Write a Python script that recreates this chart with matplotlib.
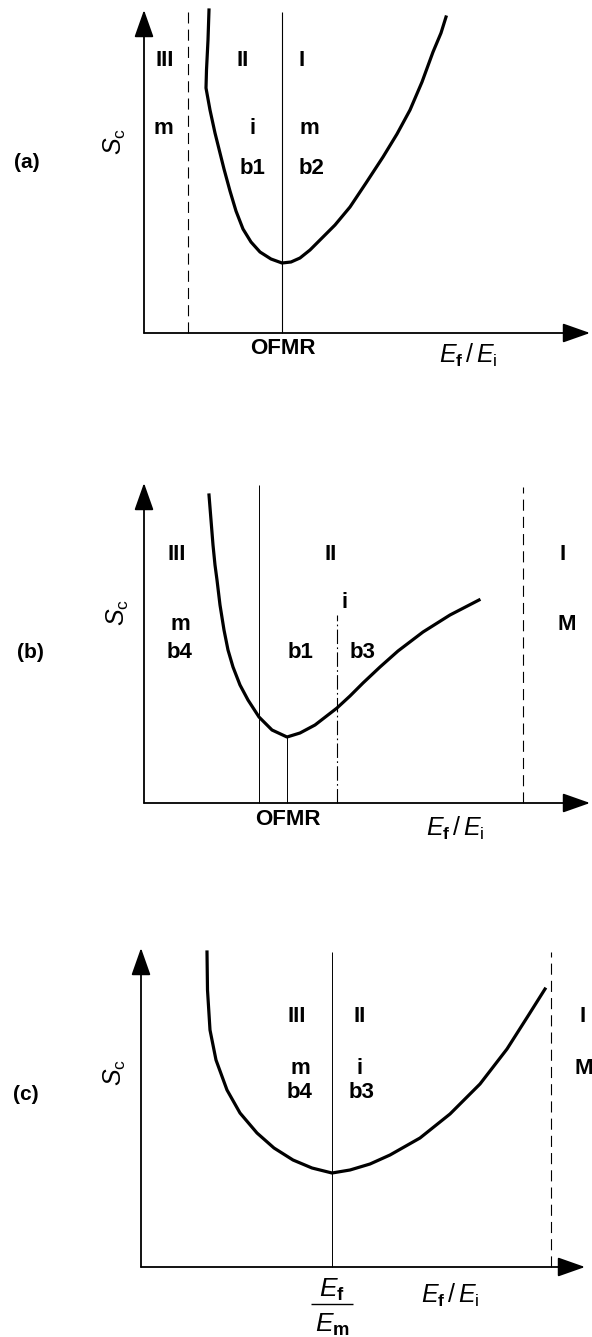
import matplotlib
matplotlib.use("Agg")
import matplotlib.pyplot as plt

plt.rcParams['font.family'] = ['Liberation Sans', 'DejaVu Sans']
plt.rcParams['mathtext.fontset'] = 'custom'
plt.rcParams['mathtext.rm'] = 'Liberation Sans'
plt.rcParams['mathtext.it'] = 'Liberation Sans:italic'
plt.rcParams['mathtext.bf'] = 'Liberation Sans:bold'

# curves (x = E_f/E_i, y = S_c, arbitrary units)
curve_a_x = [65, 64, 62.5, 62, 66, 71, 75, 80, 86, 92, 99, 107, 116, 127, 138,
             147, 156, 166, 176, 191, 206, 222, 239, 253, 266, 278, 289, 297, 302]
curve_a_y = [323, 293, 263, 245, 223, 200, 184, 164, 142, 122, 104, 91, 81, 74, 70,
             71, 75, 83, 93, 108, 126, 150, 176, 199, 223, 251, 281, 300, 316]

curve_b_x = [65, 67, 69, 71, 73, 76, 80, 84, 89, 96, 104, 115, 128, 143,
             156, 171, 193, 206, 219, 236, 254, 279, 306, 335]
curve_b_y = [308, 283, 258, 238, 223, 198, 173, 153, 136, 118, 103, 86, 73, 66,
             70, 78, 95, 107, 120, 136, 152, 171, 188, 203]

curve_c_x = [66, 66.5, 69, 75, 86, 99, 116, 133, 152, 171, 191,
             209, 229, 249, 279, 309, 339, 366, 387, 404]
curve_c_y = [315, 277, 237, 207, 177, 154, 134, 119, 107, 99, 94,
             97, 103, 112, 129, 153, 183, 218, 251, 278]

# region boundaries
a_dashed = [44]
a_solid = [138]
b_solid = [115]
b_ofmr = 143
b_dashdot = [193]
b_dashed = [379]
c_solid = [191]
c_dashed = [410]

# region labels: (text, x, y)
a_labels = [("III", 21, 273), ("II", 99, 273), ("I", 158, 273),
            ("m", 19, 205), ("i", 109, 205), ("m", 165, 205),
            ("b1", 109, 165), ("b2", 168, 165)]
b_labels = [("III", 33, 248), ("II", 187, 248), ("I", 419, 248),
            ("i", 201, 200), ("m", 36, 178), ("M", 423, 178),
            ("b4", 36, 150), ("b1", 157, 150), ("b3", 219, 150)]
c_labels = [("III", 156, 250), ("II", 219, 250), ("I", 442, 250),
            ("m", 159, 199), ("i", 219, 199), ("M", 443, 199),
            ("b4", 159, 174), ("b3", 221, 174)]

W, H = 592, 1337
fig = plt.figure(figsize=(W / 100, H / 100), dpi=100)


def panel(top, bottom, ox, oy):
    ax = fig.add_axes([0, 1 - bottom / H, 1, (bottom - top) / H])
    ax.set_xlim(-ox, W - ox)
    ax.set_ylim(oy - bottom, oy - top)
    ax.axis('off')
    return ax


def axes_arrows(ax, xtip, ytip):
    style = dict(arrowstyle='-|>,head_length=0.85,head_width=0.3', mutation_scale=20,
                 lw=1.3, color='black', shrinkA=0, shrinkB=0)
    ax.annotate('', xy=(xtip, 0), xytext=(0, 0), arrowprops=style)
    ax.annotate('', xy=(0, ytip), xytext=(0, 0), arrowprops=style)


def labels(ax, items):
    for t, x, y in items:
        ax.text(x, y, t, ha='center', va='center', fontsize=16, fontweight='bold')


dash = (0, (10, 5.5))
dashdot = (0, (13, 3, 1.5, 3))
xlabel = r"$E_\mathbf{f}\,/\,E_\mathrm{i}$"

# (a)
ax = panel(0, 440, 144, 333)
axes_arrows(ax, 446, 323)
ax.vlines(a_dashed, 0, 321, colors='black', lw=0.8, linestyles=[dash])
ax.vlines(a_solid, 0, 321, colors='black', lw=0.8)
ax.plot(curve_a_x, curve_a_y, color='black', lw=2.3, solid_joinstyle='round')
labels(ax, a_labels)
ax.text(139, -15, "OFMR", ha='center', va='center', fontsize=16, fontweight='bold')
ax.text(324, -22, xlabel, ha='center', va='center', fontsize=18)
ax.text(-29, 191, r"$S_\mathrm{c}$", ha='center', va='center', fontsize=18, rotation=90)
ax.text(-117, 171, "(a)", ha='center', va='center', fontsize=15, fontweight='bold')

# (b)
ax = panel(440, 900, 144, 803)
axes_arrows(ax, 446, 320)
ax.vlines(b_solid, 0, 318, colors='black', lw=0.7)
ax.vlines([b_ofmr], 0, min(curve_b_y), colors='black', lw=0.7)
ax.vlines(b_dashdot, 0, 188, colors='black', lw=0.8, linestyles=[dashdot])
ax.vlines(b_dashed, 0, 316, colors='black', lw=0.8, linestyles=[dash])
ax.plot(curve_b_x, curve_b_y, color='black', lw=2.3, solid_joinstyle='round')
labels(ax, b_labels)
ax.text(144, -17, "OFMR", ha='center', va='center', fontsize=16, fontweight='bold')
ax.text(311, -25, xlabel, ha='center', va='center', fontsize=18)
ax.text(-26, 190, r"$S_\mathrm{c}$", ha='center', va='center', fontsize=18, rotation=90)
ax.text(-114, 150, "(b)", ha='center', va='center', fontsize=15, fontweight='bold')

# (c)
ax = panel(900, 1337, 141, 1267)
axes_arrows(ax, 444, 319)
ax.vlines(c_solid, 0, 315, colors='black', lw=0.7)
ax.vlines(c_dashed, 0, 315, colors='black', lw=0.8, linestyles=[dash])
ax.plot(curve_c_x, curve_c_y, color='black', lw=2.3, solid_joinstyle='round')
labels(ax, c_labels)
# E_f / E_m written as a stacked fraction under the minimum
ax.text(c_solid[0], -23, r"$E_\mathbf{f}$", ha='center', va='center', fontsize=19)
ax.hlines(-37, c_solid[0] - 21, c_solid[0] + 21, colors='black', lw=1.0, clip_on=False)
ax.text(c_solid[0], -58, r"$E_\mathbf{m}$", ha='center', va='center', fontsize=19)
ax.text(309, -28, xlabel, ha='center', va='center', fontsize=18)
ax.text(-26, 194, r"$S_\mathrm{c}$", ha='center', va='center', fontsize=18, rotation=90)
ax.text(-115, 172, "(c)", ha='center', va='center', fontsize=15, fontweight='bold')

fig.savefig("out.png", dpi=100, facecolor='white')
